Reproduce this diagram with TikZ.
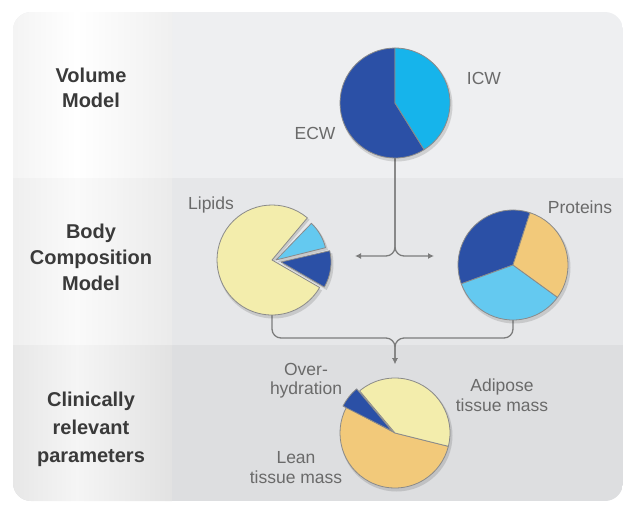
\documentclass[tikz,border=0pt]{standalone}
\usepackage{fontspec}
\setmainfont{Liberation Sans}
\usetikzlibrary{arrows.meta}

\definecolor{rowA}{HTML}{EEEFF1}
\definecolor{rowB}{HTML}{E6E7E9}
\definecolor{rowC}{HTML}{DDDEE0}
\definecolor{rowtext}{HTML}{3A3A3A}
\definecolor{lbltext}{HTML}{6A6A6A}
\definecolor{linkgray}{HTML}{7C7C7C}
\definecolor{slicegray}{HTML}{8A8A8A}
\definecolor{darkblue}{RGB}{43,80,166}
\definecolor{cyanblue}{RGB}{22,180,235}
\definecolor{lightblue}{RGB}{100,201,240}
\definecolor{paleyellow}{RGB}{243,237,172}
\definecolor{lightorange}{RGB}{242,201,122}

% left column shadings, brightest left of the middle
\pgfdeclarehorizontalshading{colA}{100bp}{color(0bp)=(black!10); color(45bp)=(white); color(90bp)=(black!9); color(100bp)=(black!13)}
\pgfdeclarehorizontalshading{colB}{100bp}{color(0bp)=(black!12); color(45bp)=(black!2); color(90bp)=(black!11); color(100bp)=(black!15)}
\pgfdeclarehorizontalshading{colC}{100bp}{color(0bp)=(black!16); color(45bp)=(black!4); color(90bp)=(black!15); color(100bp)=(black!19)}

% one slice of a pie: start, end, radius, colour, apex offset
\newcommand{\pieslice}[5]{%
  \filldraw[fill=#4,draw=slicegray,line width=.8pt,line join=round]
    (#5) -- ++(#1:#3) arc[start angle=#1,end angle=#2,radius=#3] -- cycle;}
% soft shadow under a slice
\newcommand{\pieshade}[4]{%
  \fill[black,opacity=.13] ($(#4)+(1.5,-2.5)$) -- ++(#1:#3+1)
    arc[start angle=#1,end angle=#2,radius=#3+1] -- cycle;}

\usetikzlibrary{calc}

\begin{document}
\begin{tikzpicture}[x=1pt,y=-1pt,>={Latex[length=6pt,width=6pt]},
  pie/.style={circle,minimum size=110pt,inner sep=0pt},
  rowlbl/.style={text=rowtext,align=center,inner sep=0pt},
  lbl/.style={text=lbltext,align=center,inner sep=0pt,font=\fontsize{17.5}{19}\selectfont},
  link/.style={draw=linkgray,line width=1.3pt,rounded corners=9pt}]

	\useasboundingbox (0,0) rectangle (629,507);

	% Draw the panel with its three rows
	\begin{scope}
		\clip[rounded corners=18pt] (13,12) rectangle (623,501);
		\fill[rowA] (13,12) rectangle (623,178);
		\fill[rowB] (13,178) rectangle (623,345);
		\fill[rowC] (13,345) rectangle (623,501);
		% left column, lit from the middle
		\shade[shading=colA] (13,12) rectangle (172,178);
		\shade[shading=colB] (13,178) rectangle (172,345);
		\shade[shading=colC] (13,345) rectangle (172,501);
	\end{scope}

	% Place the four pies
	\node[pie] (vol) at (395,103) {};
	\node[pie] (lip) at (272,260) {};
	\node[pie] (pro) at (513,265) {};
	\node[pie] (cli) at (395,433) {};

	% Free ends of the arrows
	\coordinate (lipto) at (355,256);
	\coordinate (proto) at (434,256);
	\coordinate (join) at (395,338);
	\coordinate (clito) at (395,364);

	% Draw the fork from the volume model to both composition pies
	\draw[link,->] (vol.south) |- (lipto);
	\draw[link,->] (vol.south) |- (proto);

	% Draw the bracket joining both composition pies
	\draw[link,->] (lip.south) |- (join) -- (clito);
	\draw[link,->] (pro.south) |- (join) -- (clito);

	% Volume pie
	\begin{scope}[shift={(vol.center)},y=1pt]
		\fill[black,opacity=.13] (1.5,-2.5) circle[radius=56];
		\pieslice{90}{302}{55}{darkblue}{0,0}
		\pieslice{-58}{90}{55}{cyanblue}{0,0}
	\end{scope}

	% Lipids pie with two pulled out slices
	\begin{scope}[shift={(lip.center)},y=1pt]
		\pieshade{50}{330}{55}{0,0}
		\pieshade{14}{46}{51}{4,0}
		\pieshade{-30}{13}{50}{9,-2}
		\pieslice{50}{330}{55}{paleyellow}{0,0}
		\pieslice{14}{46}{51}{lightblue}{4,0}
		\pieslice{-30}{13}{50}{darkblue}{9,-2}
	\end{scope}

	% Proteins pie
	\begin{scope}[shift={(pro.center)},y=1pt]
		\fill[black,opacity=.13] (1.5,-2.5) circle[radius=56];
		\pieslice{72}{200}{55}{darkblue}{0,0}
		\pieslice{200}{324}{55}{lightblue}{0,0}
		\pieslice{-36}{72}{55}{lightorange}{0,0}
	\end{scope}

	% Clinical pie
	\begin{scope}[shift={(cli.center)},y=1pt]
		\fill[black,opacity=.13] (1.5,-2.5) circle[radius=56];
		\pieslice{152}{346}{55}{lightorange}{0,0}
		\pieslice{-14}{130}{55}{paleyellow}{0,0}
		\pieslice{130}{153}{55}{darkblue}{-3,2}
	\end{scope}

	% Row titles
	\node[rowlbl,font=\fontsize{20}{25}\selectfont\bfseries] (volttl) at (91,88) {Volume\\Model};
	\node[rowlbl,font=\fontsize{20}{26}\selectfont\bfseries] (compttl) at (91,257) {Body\\Composition\\Model};
	\node[rowlbl,font=\fontsize{20}{28}\selectfont\bfseries] (clinttl) at (91,429) {Clinically\\relevant\\parameters};

	% Slice labels
	\node[lbl] (icw) at (484,78) {ICW};
	\node[lbl] (ecw) at (315,133) {ECW};
	\node[lbl] (lipids) at (211,205) {Lipids};
	\node[lbl] (proteins) at (580,207) {Proteins};
	\node[lbl] (overhyd) at (306,381) {Over-\\hydration};
	\node[lbl,font=\fontsize{17.5}{20}\selectfont] (adipose) at (502,395) {Adipose\\tissue mass};
	\node[lbl,font=\fontsize{17.5}{20}\selectfont] (lean) at (296,468) {Lean\\tissue mass};

\end{tikzpicture}
\end{document}
